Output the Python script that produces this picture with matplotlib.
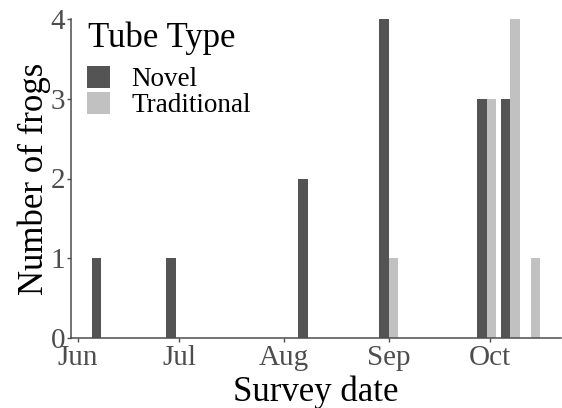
import datetime as dt

import matplotlib
matplotlib.use("Agg")
import matplotlib.pyplot as plt
import matplotlib.dates as mdates
from matplotlib.patches import Patch

# Survey counts per date, by tube type
survey_dates = ["2019-06-08", "2019-06-30", "2019-08-08", "2019-09-01",
                "2019-09-30", "2019-10-07", "2019-10-13"]
novel = [1, 1, 2, 4, 3, 3, 0]
traditional = [0, 0, 0, 1, 3, 4, 1]
series_names = ["Novel", "Traditional"]
series_colors = ["#545454", "#c1c1c1"]
month_ticks = ["2019-06-01", "2019-07-01", "2019-08-01", "2019-09-01", "2019-10-01"]

plt.rcParams["font.family"] = ["Liberation Serif", "DejaVu Serif"]

W, H = 562, 408
fig = plt.figure(figsize=(W / 100, H / 100), dpi=100)
ax = fig.add_axes([71 / W, 70 / H, 490 / W, 319 / H])

dates = [dt.datetime.strptime(d, "%Y-%m-%d") for d in survey_dates]
x = mdates.date2num(dates)
bar_w = 2.8  # days
ax.bar(x - bar_w / 2, novel, width=bar_w, color=series_colors[0], linewidth=0)
ax.bar(x + bar_w / 2, traditional, width=bar_w, color=series_colors[1], linewidth=0)

ax.set_xlim(mdates.date2num(dt.datetime(2019, 5, 30)),
            mdates.date2num(dt.datetime(2019, 10, 22)))
ax.set_ylim(0, 4)
ax.set_yticks([0, 1, 2, 3, 4])
ax.set_xticks(mdates.date2num([dt.datetime.strptime(d, "%Y-%m-%d") for d in month_ticks]))
ax.xaxis.set_major_formatter(mdates.DateFormatter("%b"))

for side in ("top", "right"):
    ax.spines[side].set_visible(False)
for side in ("left", "bottom"):
    ax.spines[side].set_color("#4d4d4d")
    ax.spines[side].set_linewidth(1.1)

ax.tick_params(axis="both", which="major", length=3, width=1.0, color="#4d4d4d",
               labelcolor="#4d4d4d", labelsize=21, pad=1)
ax.tick_params(axis="x", pad=2)

ax.set_xlabel("Survey date", fontsize=25, color="black", labelpad=3)
ax.set_ylabel("Number of frogs", fontsize=25, color="black", labelpad=0)

# Legend: title as its own text, keys below it
fig.text(88 / W, 1 - 47 / H, "Tube Type", fontsize=25, color="black",
         ha="left", va="baseline")
handles = [Patch(facecolor=c, edgecolor="none") for c in series_colors]
leg = ax.legend(handles, series_names, loc="upper left",
                bbox_to_anchor=(87 / W, 1 - 66 / H), bbox_transform=fig.transFigure,
                frameon=False, fontsize=19.5,
                handlelength=0.85, handleheight=0.85, handletextpad=0.8,
                labelspacing=0.0, borderaxespad=0, borderpad=0)

fig.savefig("out.png", dpi=100)
